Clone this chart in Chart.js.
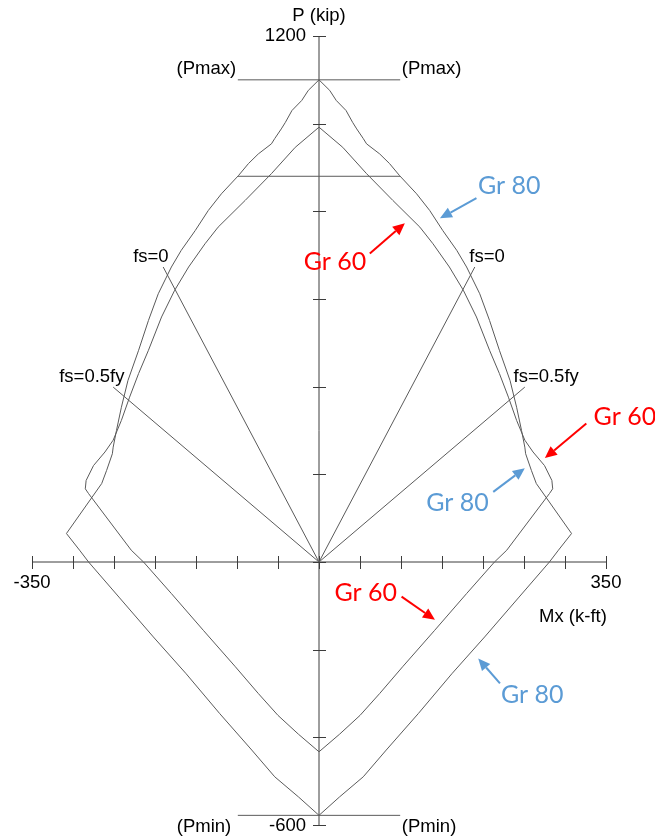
<!DOCTYPE html>
<html><head><meta charset="utf-8">
<script src="https://cdn.jsdelivr.net/npm/chart.js@4.4.1/dist/chart.umd.min.js"></script>
<style>html,body{margin:0;padding:0;background:#fff;}#wrap{width:655px;height:839px;position:relative;}</style>
</head><body><div id="wrap"><canvas id="c"></canvas></div>
<script>
// Interaction diagram data (Mx in k-ft, P in kip)
const gr80M = [0,13,21,33,41,46,54,58,74,86,98,119,135,151,168,180,196,208,220,233,241,247,251,252,259,265,308,292,281,244,202,162,121,82,54,25,0,-25,-54,-82,-121,-162,-202,-244,-281,-292,-308,-265,-259,-252,-251,-247,-241,-233,-220,-208,-196,-180,-168,-151,-135,-119,-98,-86,-74,-58,-54,-46,-41,-33,-21,-13,0];
const gr80P = [1100,1076,1053,1030,1003,988,966,954,931,909,882,840,802,756,711,673,612,551,483,414,353,300,262,247,209,179,65,27,0,-80,-171,-255,-346,-429,-490,-536,-578,-536,-490,-429,-346,-255,-171,-80,0,27,65,179,209,247,262,300,353,414,483,551,612,673,711,756,802,840,882,909,931,954,966,988,1003,1030,1053,1076,1100];
const gr60M = [0,29,58,90,123,139,159,176,192,208,220,231,241,251,261,275,284,285,281,229,214,180,141,102,74,50,25,0,-25,-50,-74,-102,-141,-180,-214,-229,-281,-285,-284,-275,-261,-251,-241,-231,-220,-208,-192,-176,-159,-139,-123,-90,-58,-29,0];
const gr60P = [992,946,886,825,764,726,673,620,559,483,430,376,323,278,251,220,186,167,156,27,0,-72,-156,-239,-300,-350,-393,-433,-393,-350,-300,-239,-156,-72,0,27,156,167,186,220,251,278,323,376,430,483,559,620,673,726,764,825,886,946,992];
const pmaxLineM = [-99, 99];   const pmaxLineP = [1100, 1100];
const p08LineM  = [-99, 99];   const p08LineP  = [880, 880];
const pminLineM = [-99, 99];   const pminLineP = [-578, -578];
const fs0M   = [-190, 0, 190]; const fs0P   = [673, 0, 673];
const fs05M  = [-251, 0, 251]; const fs05P  = [399, 0, 399];

const xTicks = [-350,-300,-250,-200,-150,-100,-50,0,50,100,150,200,250,300,350];
const yTicks = [-600,-400,-200,0,200,400,600,800,1000,1200];
const xTickLabels = {'-350':'-350','350':'350'};
const yTickLabels = {'1200':'1200','-600':'-600'};

// text annotations: [text, M, P, align, kind]
const labels = [
  ['P (kip)', 0, 1246, 'center', 'k'],
  ['Mx (k-ft)', 351, -125, 'right', 'k'],
  ['(Pmax)', -101, 1125, 'right', 'k'],
  ['(Pmax)', 101, 1125, 'left', 'k'],
  ['(Pmin)', -107, -604, 'right', 'k'],
  ['(Pmin)', 101, -604, 'left', 'k'],
  ['fs=0', -205, 697, 'center', 'k'],
  ['fs=0', 205, 697, 'center', 'k'],
  ['fs=0.5fy', -277, 422, 'center', 'k'],
  ['fs=0.5fy', 277, 422, 'center', 'k'],
  ['Gr 80', 232, 858, 'center', 'b'],
  ['Gr 60', 19.6, 685, 'center', 'r'],
  ['Gr 60', 373, 331, 'center', 'r'],
  ['Gr 80', 169, 134, 'center', 'b'],
  ['Gr 60', 57, -70, 'center', 'r'],
  ['Gr 80', 260, -303, 'center', 'b']
];
// arrows: [fromM, fromP, tipM, tipP, kind]
const arrows = [
  [192, 830, 147.5, 784, 'b'],
  [62, 704, 104.7, 773, 'r'],
  [326, 316, 275.5, 237, 'r'],
  [212.5, 160, 251, 214, 'b'],
  [100.7, -79, 141.4, -132, 'r'],
  [220.7, -277, 194.2, -220, 'b']
];

const COLORS = {k:'#000000', r:'#FF0000', b:'#5B9BD5'};
const LINE = '#5a5a5a';
const AXIS = '#3c3c3c';

function pts(m, p){ return m.map((v,i)=>({x:v, y:p[i]})); }
function ds(m, p){ return {data: pts(m,p), showLine:true, borderColor:LINE, borderWidth:1, pointRadius:0, tension:0, fill:false}; }

const overlay = {
  id:'overlay',
  beforeDatasetsDraw(chart){
    const ctx = chart.ctx, xs = chart.scales.x, ys = chart.scales.y;
    const x0 = xs.getPixelForValue(0), y0 = ys.getPixelForValue(0);
    ctx.save();
    ctx.strokeStyle = AXIS; ctx.lineWidth = 1;
    ctx.beginPath();
    ctx.moveTo(xs.getPixelForValue(xTicks[0]), y0); ctx.lineTo(xs.getPixelForValue(xTicks[xTicks.length-1]), y0);
    ctx.moveTo(x0, ys.getPixelForValue(yTicks[0])); ctx.lineTo(x0, ys.getPixelForValue(yTicks[yTicks.length-1]));
    xTicks.forEach(t=>{ const px = Math.round(xs.getPixelForValue(t))+0.5; ctx.moveTo(px, y0-6); ctx.lineTo(px, y0+7); });
    yTicks.forEach(t=>{ const py = Math.round(ys.getPixelForValue(t))+0.5; ctx.moveTo(x0-6, py); ctx.lineTo(x0+7, py); });
    ctx.stroke();
    ctx.fillStyle = '#000';
    ctx.font = '18.5px "Liberation Sans", Arial, sans-serif';
    ctx.textBaseline = 'middle';
    ctx.textAlign = 'center';
    xTicks.forEach(t=>{ const s = xTickLabels[String(t)]; if(s) ctx.fillText(s, xs.getPixelForValue(t), y0+21); });
    ctx.textAlign = 'right';
    yTicks.forEach(t=>{ const s = yTickLabels[String(t)]; if(s) ctx.fillText(s, x0-13, ys.getPixelForValue(t) + (t<0?1:0)); });
    ctx.restore();
  },
  afterDatasetsDraw(chart){
    const ctx = chart.ctx, xs = chart.scales.x, ys = chart.scales.y;
    ctx.save();
    ctx.textBaseline = 'middle';
    labels.forEach(([txt,m,p,al,k])=>{
      ctx.fillStyle = COLORS[k];
      ctx.font = k==='k' ? '18.5px "Liberation Sans", Arial, sans-serif' : '25px Lato, "Open Sans", sans-serif';
      ctx.textAlign = al;
      ctx.fillText(txt, xs.getPixelForValue(m), ys.getPixelForValue(p));
    });
    arrows.forEach(([fm,fp,tm,tp,k])=>{
      const x1 = xs.getPixelForValue(fm), y1 = ys.getPixelForValue(fp);
      const x2 = xs.getPixelForValue(tm), y2 = ys.getPixelForValue(tp);
      const a = Math.atan2(y2-y1, x2-x1), L = 12, W = 5.5;
      const bx = x2 - L*Math.cos(a), by = y2 - L*Math.sin(a);
      ctx.strokeStyle = COLORS[k]; ctx.fillStyle = COLORS[k]; ctx.lineWidth = 2;
      ctx.beginPath(); ctx.moveTo(x1,y1); ctx.lineTo(bx,by); ctx.stroke();
      ctx.beginPath(); ctx.moveTo(x2,y2);
      ctx.lineTo(bx + W*Math.sin(a), by - W*Math.cos(a));
      ctx.lineTo(bx - W*Math.sin(a), by + W*Math.cos(a));
      ctx.closePath(); ctx.fill();
    });
    ctx.restore();
  }
};

new Chart(document.getElementById('c'), {
  type:'scatter',
  data:{datasets:[
    ds(gr80M, gr80P), ds(gr60M, gr60P),
    ds(pmaxLineM, pmaxLineP), ds(p08LineM, p08LineP), ds(pminLineM, pminLineP),
    ds(fs0M, fs0P), ds(fs05M, fs05P)
  ]},
  options:{
    responsive:true, maintainAspectRatio:false, animation:false,
    layout:{padding:{left:32, right:49, top:36, bottom:14}},
    plugins:{legend:{display:false}, tooltip:{enabled:false}},
    scales:{
      x:{type:'linear', min:-350, max:350, display:false},
      y:{type:'linear', min:-600, max:1200, display:false}
    },
    elements:{line:{borderJoinStyle:'round'}}
  },
  plugins:[overlay]
});
</script></body></html>
